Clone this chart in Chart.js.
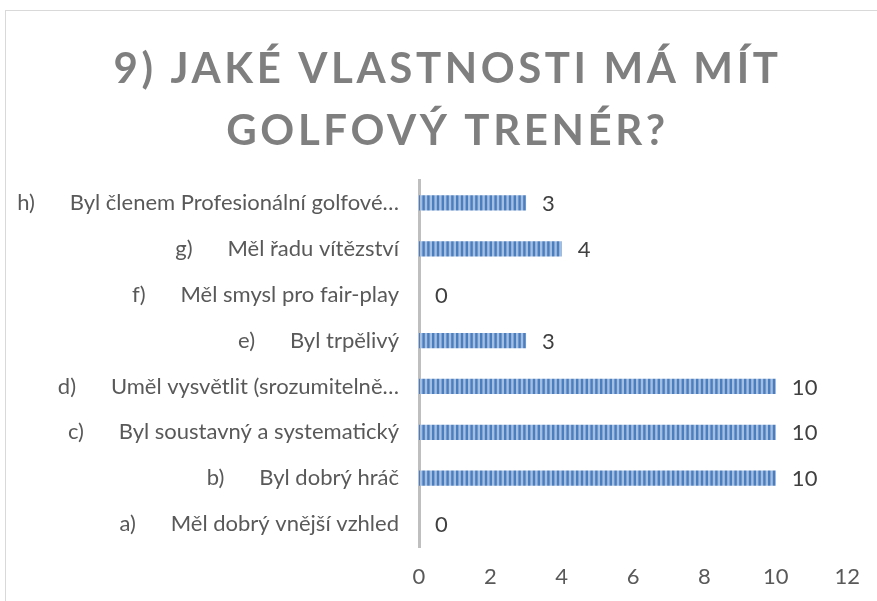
<!DOCTYPE html>
<html><head><meta charset="utf-8">
<script src="https://cdn.jsdelivr.net/npm/chart.js@4/dist/chart.umd.min.js"></script>
<style>html,body{margin:0;padding:0;background:#fff;overflow:hidden}canvas{display:block}</style>
</head><body>
<canvas id="c" width="877" height="601"></canvas>
<script>
const letters = ['a)','b)','c)','d)','e)','f)','g)','h)'];
const items = ['Měl dobrý vnější vzhled','Byl dobrý hráč','Byl soustavný a systematický','Uměl vysvětlit (srozumitelně…','Byl trpělivý','Měl smysl pro fair-play','Měl řadu vítězství','Byl členem Profesionální golfové…'];
const counts = [0,10,10,10,3,0,4,3];
const xTicks = [0,2,4,6,8,10,12];
const titleLines = ['9) JAKÉ VLASTNOSTI MÁ MÍT','GOLFOVÝ TRENÉR?'];

const GAP = '\u2003\u2002\u2004';
const labels = letters.map((l,i)=> l + GAP + items[i]);
const FONT = 'Lato';

const canvas = document.getElementById('c');
const mainCtx = canvas.getContext('2d');
function stripePattern(){
  const p = document.createElement('canvas'); p.width = 24; p.height = 4;
  const g = p.getContext('2d');
  g.fillStyle = '#a4bee1'; g.fillRect(0,0,24,4);
  g.fillStyle = '#4a7ebf';
  for (let k=0;k<5;k++) g.fillRect(k*4.8, 0, 2.4, 4);
  return mainCtx.createPattern(p, 'repeat');
}

const decor = {
  id: 'decor',
  afterInit(chart){
    const tb = chart.titleBlock;
    if (tb) {
      const orig = tb.draw.bind(tb);
      tb.draw = function(area){
        const ctx = chart.ctx; ctx.save();
        ctx.letterSpacing = '3.6px';
        ctx.translate(20, -1);
        orig(area);
        ctx.restore();
      };
    }
  },
  beforeDraw(chart){
    const ctx = chart.ctx; ctx.save();
    ctx.fillStyle = '#fff'; ctx.fillRect(0,0,chart.width,chart.height);
    ctx.strokeStyle = '#d9d9d9'; ctx.lineWidth = 1;
    ctx.strokeRect(5.5, 10.5, 1000, 1000);
    ctx.restore();
  },
  afterDatasetsDraw(chart){
    const ctx = chart.ctx; const meta = chart.getDatasetMeta(0);
    const data = chart.data.datasets[0].data;
    ctx.save();
    ctx.font = '22px ' + FONT; ctx.fillStyle = '#404040';
    ctx.textAlign = 'left'; ctx.textBaseline = 'middle';
    meta.data.forEach((bar,i)=>{ ctx.fillText(String(data[i]), bar.x + 16, bar.y + 1); });
    ctx.restore();
  }
};

new Chart(canvas, {
  type: 'bar',
  data: { labels: labels, datasets: [{ data: counts, backgroundColor: stripePattern(), borderWidth: 0, barPercentage: 0.33, categoryPercentage: 1 }] },
  plugins: [decor],
  options: {
    indexAxis: 'y', responsive: false, animation: false,
    layout: { padding: { left: 5, right: 27, top: 10, bottom: 12 } },
    plugins: {
      legend: { display: false }, tooltip: { enabled: false },
      title: { display: true, text: titleLines, color: '#7f7f7f',
        font: { family: FONT, size: 42, weight: 'bold', lineHeight: 62/42 },
        padding: { top: 29, bottom: 17 } }
    },
    scales: {
      x: { min: 0, max: 12,
        afterBuildTicks(s){ s.ticks = xTicks.map(v=>({value:v})); },
        afterFit(s){ s.height = 42; },
        ticks: { color: '#595959', font: { family: FONT, size: 22 }, padding: 17 },
        grid: { display: false, drawTicks: false }, border: { display: false } },
      y: { reverse: true,
        afterFit(s){ s.width = 414; },
        ticks: { color: '#595959', font: { family: FONT, size: 22 }, padding: 20 },
        grid: { display: false, drawTicks: false },
        border: { display: true, color: '#bfbfbf', width: 3 } }
    }
  }
});
</script>
</body></html>
